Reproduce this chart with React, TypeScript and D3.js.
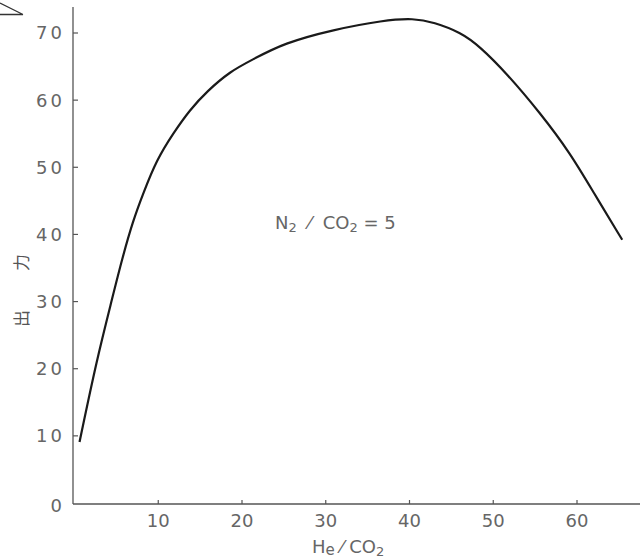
import React, { useRef, useEffect } from 'react';
import * as d3 from 'd3';

// He/CO2 ratio vs output (N2/CO2 = 5)
const heRatio = [0.6, 2.65, 4.45, 5.65, 7.0, 8.2, 9.8, 11.8, 13.8, 15.8, 18.6, 21.2, 25, 30.9, 36.9, 40.5, 42.9, 46.1, 48.4, 51.6, 55.6, 59.2, 62.0, 65.4];
const power = [9.1, 21.3, 30.2, 36.2, 42.1, 46.1, 51.1, 55.1, 58.6, 61.3, 64.3, 66.0, 68.5, 70.5, 71.9, 72.2, 71.6, 70.1, 68.0, 64.0, 58.1, 52.1, 46.2, 39.2];

const xTicks = [10, 20, 30, 40, 50, 60];
const yTicks = [0, 10, 20, 30, 40, 50, 60, 70];

const W = 644;
const H = 558;

const App = () => {
    const svgRef = useRef<SVGSVGElement>(null);

    useEffect(() => {
        const svg = d3.select(svgRef.current);
        svg.selectAll("*").remove();

        const x = d3.scaleLinear().domain([0, 60]).range([74.5, 577]);
        const y = d3.scaleLinear().domain([0, 70]).range([503, 33]);

        const axisX = 73;
        const axisY = 504;
        const ink = "#555";
        const font = "'DejaVu Sans', sans-serif";
        const sp = "\u00a0";

        // stray mark in the top-left corner of the scan
        svg.append("path")
            .attr("d", "M0,3 L23,14.5 M0,14.5 L23,14.5")
            .attr("fill", "none")
            .attr("stroke", "#333")
            .attr("stroke-width", 1.3);

        // axes
        svg.append("line")
            .attr("x1", axisX).attr("x2", axisX)
            .attr("y1", 7).attr("y2", axisY)
            .attr("stroke", ink).attr("stroke-width", 1.3);
        svg.append("line")
            .attr("x1", axisX).attr("x2", 640)
            .attr("y1", axisY).attr("y2", axisY)
            .attr("stroke", ink).attr("stroke-width", 1.3);

        // y ticks
        const yt = svg.append("g");
        yt.selectAll("line")
            .data(yTicks.filter(d => d > 0))
            .enter()
            .append("line")
            .attr("x1", axisX).attr("x2", axisX + 5)
            .attr("y1", d => y(d)).attr("y2", d => y(d))
            .attr("stroke", ink).attr("stroke-width", 1.2);
        yt.selectAll("text")
            .data(yTicks)
            .enter()
            .append("text")
            .attr("x", 65)
            .attr("y", d => (d === 0 ? axisY + 2 : y(d)))
            .attr("dy", "0.36em")
            .attr("text-anchor", "end")
            .attr("font-family", font)
            .attr("font-size", 18)
            .attr("letter-spacing", 3)
            .attr("fill", "#666")
            .text(d => d);

        // x ticks
        const xt = svg.append("g");
        xt.selectAll("line")
            .data(xTicks)
            .enter()
            .append("line")
            .attr("x1", d => x(d)).attr("x2", d => x(d))
            .attr("y1", axisY).attr("y2", axisY - 4)
            .attr("stroke", ink).attr("stroke-width", 1.2);
        xt.selectAll("text")
            .data(xTicks)
            .enter()
            .append("text")
            .attr("x", d => x(d))
            .attr("y", 527)
            .attr("text-anchor", "middle")
            .attr("font-family", font)
            .attr("font-size", 18)
            .attr("fill", "#666")
            .text(d => d);

        // x title: He / CO2
        const xTitle = svg.append("text")
            .attr("x", 312)
            .attr("y", 553)
            .attr("font-family", font)
            .attr("font-size", 18)
            .attr("fill", "#666");
        xTitle.append("tspan").text("H");
        xTitle.append("tspan").attr("dy", 2).attr("font-size", 15).text("e");
        xTitle.append("tspan").attr("dy", -2).text(sp + "⁄" + sp + "CO");
        xTitle.append("tspan").attr("dy", 3).attr("font-size", 13).text("2");

        // y title: 出 力
        svg.append("text")
            .attr("transform", "translate(22,271) rotate(-90)")
            .attr("text-anchor", "middle")
            .attr("dy", "0.35em")
            .attr("font-family", "'Noto Sans CJK JP', sans-serif")
            .attr("font-size", 17)
            .attr("letter-spacing", 39)
            .attr("fill", "#555")
            .text("出力");

        // annotation: N2 / CO2 = 5
        const note = svg.append("text")
            .attr("x", 275)
            .attr("y", 229)
            .attr("font-family", font)
            .attr("font-size", 18)
            .attr("fill", "#666");
        note.append("tspan").text("N");
        note.append("tspan").attr("dy", 3).attr("font-size", 13).text("2");
        note.append("tspan").attr("dy", -3).text(sp + sp + "⁄" + sp + sp + "CO");
        note.append("tspan").attr("dy", 3).attr("font-size", 13).text("2");
        note.append("tspan").attr("dy", -3).text(sp + "=" + sp + "5");

        // curve
        const line = d3.line<number>()
            .x((_, i) => x(heRatio[i]))
            .y(d => y(d))
            .curve(d3.curveBasis);

        svg.append("path")
            .datum(power)
            .attr("d", line)
            .attr("fill", "none")
            .attr("stroke", "#1a1a1a")
            .attr("stroke-width", 2.2);
    }, []);

    return (
        <svg
            ref={svgRef}
            width={W}
            height={H}
            style={{ position: "absolute", left: 0, top: 0, background: "#fff" }}
        ></svg>
    );
};

export default App;
